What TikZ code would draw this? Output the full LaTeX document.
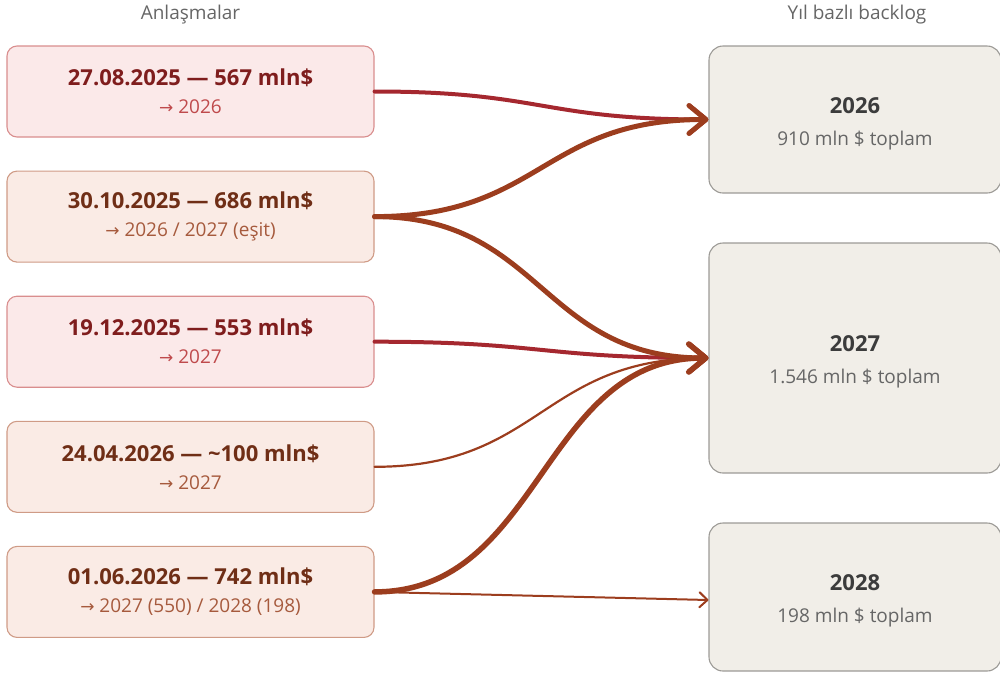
\documentclass[tikz,border=0pt]{standalone}
\usepackage{fontspec}
\setmainfont{Open Sans}
\newfontfamily\arrowfont{DejaVu Sans}
\usetikzlibrary{arrows.meta,positioning}
\definecolor{redfill}{HTML}{FBE9E9}
\definecolor{reddraw}{HTML}{D98E8E}
\definecolor{redtext}{HTML}{7F1D1D}
\definecolor{redsub}{HTML}{BF4A4C}
\definecolor{brownfill}{HTML}{FAEBE5}
\definecolor{browndraw}{HTML}{CF9B86}
\definecolor{browntext}{HTML}{6F2E16}
\definecolor{brownsub}{HTML}{A65A3D}
\definecolor{yearfill}{HTML}{F1EEE8}
\definecolor{yeardraw}{HTML}{9C9A96}
\definecolor{yeartext}{HTML}{3C3C3C}
\definecolor{yearsub}{HTML}{666666}
\definecolor{redline}{HTML}{A5282F}
\definecolor{brownline}{HTML}{9C3D1E}

\begin{document}
\begin{tikzpicture}[x=1pt, y=1pt, node distance=33pt,
    every node/.style={align=center, font=\fontsize{19}{28}\selectfont},
    deal/.style={draw, rounded corners=10pt, line width=1.1pt,
        minimum width=367pt, minimum height=91pt},
    redbox/.style={deal, fill=redfill, draw=reddraw, text=redtext},
    brownbox/.style={deal, fill=brownfill, draw=browndraw, text=browntext},
    yearbox/.style={draw=yeardraw, fill=yearfill, text=yeartext,
        rounded corners=14pt, line width=1.1pt, minimum width=292pt},
    head/.style={text=yearsub},
    redflow/.style={draw=redline, line width=4pt, line cap=round,
        -{Straight Barb[length=17pt, width=28pt, round]}},
    brownflow/.style={draw=brownline, line width=5pt, line cap=round,
        -{Straight Barb[length=17pt, width=28pt, round]}},
    thinflow/.style={draw=brownline, line width=2.2pt, line cap=round,
        -{Straight Barb[length=17pt, width=28pt, round]}},
    smallflow/.style={draw=brownline, line width=2pt, line cap=round,
        -{Straight Barb[length=8pt, width=15pt, round]}}
    ]
\useasboundingbox (0,0) rectangle (1000,-673);
% column headers
\node[head] (h1) at (190.5,-15) {Anlaşmalar};
\node[head] (h2) at (857,-15) {Yıl bazlı backlog};
% deals
\node[redbox] (d1) at (190.5,-91.5)
    {\textbf{\fontsize{22}{28}\selectfont 27.08.2025 — 567 mln\$}\\
     \textcolor{redsub}{{\arrowfont\fontsize{17}{28}\selectfont →} 2026}};
\node[brownbox] (d2) [below=of d1]
    {\textbf{\fontsize{22}{28}\selectfont 30.10.2025 — 686 mln\$}\\
     \textcolor{brownsub}{{\arrowfont\fontsize{17}{28}\selectfont →} 2026 / 2027 (eşit)}};
\node[redbox] (d3) [below=of d2]
    {\textbf{\fontsize{22}{28}\selectfont 19.12.2025 — 553 mln\$}\\
     \textcolor{redsub}{{\arrowfont\fontsize{17}{28}\selectfont →} 2027}};
\node[brownbox] (d4) [below=of d3]
    {\textbf{\fontsize{22}{28}\selectfont 24.04.2026 — \textasciitilde100 mln\$}\\
     \textcolor{brownsub}{{\arrowfont\fontsize{17}{28}\selectfont →} 2027}};
\node[brownbox] (d5) [below=of d4]
    {\textbf{\fontsize{22}{28}\selectfont 01.06.2026 — 742 mln\$}\\
     \textcolor{brownsub}{{\arrowfont\fontsize{17}{28}\selectfont →} 2027 (550) / 2028 (198)}};
% years
\node[yearbox, minimum height=147pt] (y26) at (855,-119.5)
    {\rule{0pt}{24pt}\textbf{\fontsize{22}{28}\selectfont 2026}\\[4pt]
     \textcolor{yearsub}{910 mln \$ toplam}};
\node[yearbox, minimum height=230pt] (y27) at (855,-358)
    {\rule{0pt}{24pt}\textbf{\fontsize{22}{28}\selectfont 2027}\\[4pt]
     \textcolor{yearsub}{1.546 mln \$ toplam}};
\node[yearbox, minimum height=148pt] (y28) at (855,-597)
    {\rule{0pt}{24pt}\textbf{\fontsize{22}{28}\selectfont 2028}\\[4pt]
     \textcolor{yearsub}{198 mln \$ toplam}};
\coordinate (t28) at ([yshift=-3pt]y28.west);
% flows
\path
(d1.east) edge [redflow, out=0, in=180, distance=167pt] (y26.west)
(d3.east) edge [redflow, out=0, in=180, distance=167pt] (y27.west)
(d4.east) edge [thinflow, out=0, in=180, distance=167pt] (y27.west)
(d5.east) edge [smallflow] (t28)
(d2.east) edge [brownflow, out=0, in=180, distance=167pt] (y26.west)
          edge [brownflow, out=0, in=180, distance=167pt] (y27.west)
(d5.east) edge [brownflow, line width=5.5pt, out=0, in=180, distance=167pt] (y27.west)
;
\end{tikzpicture}
\end{document}
